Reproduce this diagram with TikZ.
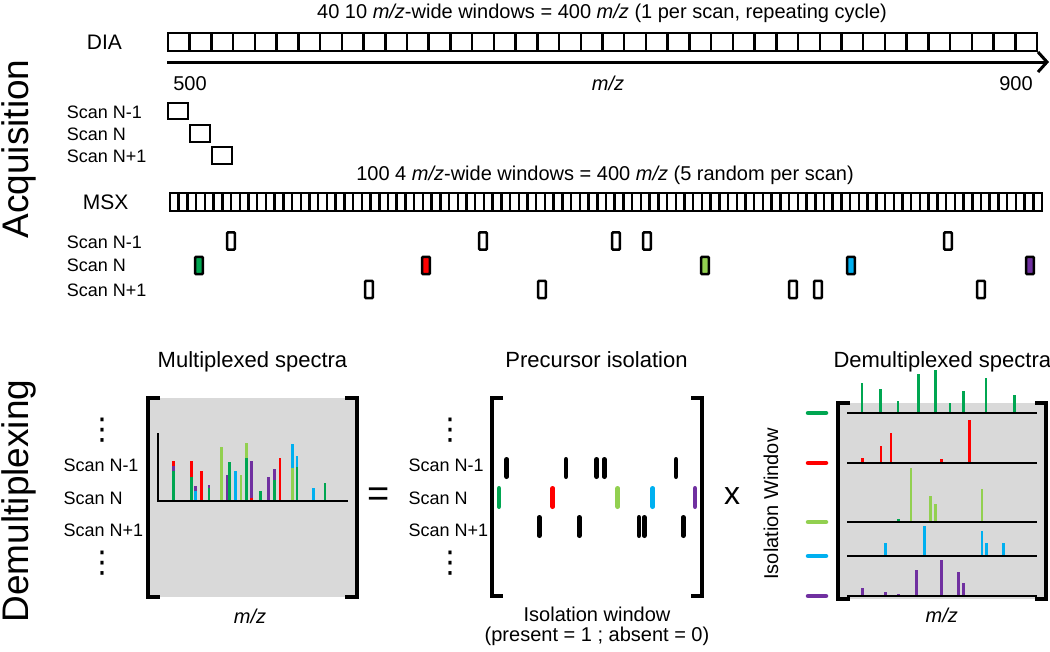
\documentclass[tikz,border=0pt]{standalone}
\usepackage{fontspec}
\setmainfont{Liberation Sans}
\newfontfamily\djv{DejaVu Sans}
\usetikzlibrary{arrows.meta}
\definecolor{cgreen}{RGB}{0,166,81}
\definecolor{cred}{RGB}{255,0,0}
\definecolor{clgreen}{RGB}{146,208,80}
\definecolor{ccyan}{RGB}{0,176,240}
\definecolor{cpurple}{RGB}{112,48,160}
\definecolor{cgray}{RGB}{217,217,217}
\newcommand{\fs}[1]{\fontsize{#1}{#1}\selectfont}
\newcommand{\mz}{\textit{m/z}}
\tikzset{
  lbl/.style={inner sep=0pt, font=\fs{18}, anchor=base west},
  txtmid/.style={inner sep=0pt, font=\fs{20}, anchor=base},
  sectitle/.style={inner sep=0pt, font=\fs{22}, anchor=base},
  bigtitle/.style={inner sep=0pt, font=\fs{37}, anchor=base, rotate=90},
  cell/.style={draw, line width=2.5pt},
  win/.style={draw, line width=2.5pt, rounded corners=1pt},
  brk/.style={line width=3.5pt},
  iso/.style={line width=4.5pt, line cap=round},
  pk/.style={line width=2.5pt},
  specbase/.style={line width=2.5pt},
  vdts/.style={inner sep=0pt, font=\djv\fs{30}, anchor=center},
}
\begin{document}
\begin{tikzpicture}[x=1pt,y=-1pt]
\useasboundingbox (0,0) rectangle (1050,651);

% ---------------- Section titles
\node[bigtitle] (acq) at (28,149) {Acquisition};
\node[bigtitle] (demux) at (28,501) {Demultiplexing};

% ---------------- DIA
\node[txtmid] (diatitle) at (602,18.5) {40 10 \mz-wide windows = 400 \mz{} (1 per scan, repeating cycle)};
\node[inner sep=0pt, font=\fs{21}, anchor=base] (dia) at (104.5,49) {DIA};
\draw[cell] (168,33) rectangle (1037,51);
\foreach \i in {1,...,39} \draw[cell] ({168+\i*21.725},33) -- ({168+\i*21.725},51);

\coordinate (axL) at (167,62);
\coordinate (axR) at (1049,62);
\draw[line width=3pt, -{Straight Barb[length=9pt,width=20pt]}] (axL) -- (axR);
\node[txtmid] (n500) at (190,90) {500};
\node[txtmid] (mzaxis) at (608,90) {\mz};
\node[txtmid] (n900) at (1016,90) {900};

\node[lbl] (dsa) at (66.7,118.3) {Scan N-1};
\node[lbl] (dsb) at (66.7,140) {Scan N};
\node[lbl] (dsc) at (66.7,162.3) {Scan N+1};
\draw[cell] (168,103) rectangle (188,119);
\draw[cell] (190,125) rectangle (210,142);
\draw[cell] (212,147) rectangle (232,164);

% ---------------- MSX
\node[txtmid] (msxtitle) at (605,180) {100 4 \mz-wide windows = 400 \mz{} (5 random per scan)};
\node[inner sep=0pt, font=\fs{21}, anchor=base] (msx) at (105.7,209) {MSX};
\draw[cell] (170,193) rectangle (1042,211);
\foreach \i in {1,...,99} \draw[cell] ({170+\i*8.72},193) -- ({170+\i*8.72},211);

\node[lbl] (msa) at (66.7,248.3) {Scan N-1};
\node[lbl] (msb) at (66.7,271.7) {Scan N};
\node[lbl] (msc) at (66.7,296) {Scan N+1};
\foreach \x in {231,483,616,647,948}
  \draw[win,fill=white] (\x-3.8,232.3) rectangle (\x+3.8,249.7);
\foreach \x/\c in {199/cgreen,426/cred,705/clgreen,851/ccyan,1030/cpurple}
  \draw[win,fill=\c] (\x-3.8,256.8) rectangle (\x+3.8,274.2);
\foreach \x in {369,542,793,818,981}
  \draw[win,fill=white] (\x-3.8,280.8) rectangle (\x+3.8,298.2);

% ---------------- Multiplexed spectra
\node[sectitle] (mtitle) at (252.5,367.3) {Multiplexed spectra};
\fill[cgray] (148,398) rectangle (357,597);
\draw[brk] (160,398) -- (148,398) -- (148,597) -- (160,597);
\draw[brk] (345,398) -- (357,398) -- (357,597) -- (345,597);
\foreach \x/\a/\b/\c in {
 173.3/500/470.7/cgreen, 173.3/470.7/465.7/cpurple, 173.3/465.7/460.7/cred,
 191.7/500/477.3/cgreen, 191.7/477.3/461/cred,
 195.7/500/490.7/ccyan, 195.7/490.7/486/cpurple,
 201.7/500/471/cred,
 209/500/487.7/cgreen, 209/487.7/485/cpurple,
 221.7/500/447.3/clgreen,
 227/500/475/cpurple,
 229.3/500/462/cgreen,
 235.3/500/471/ccyan,
 241/500/475.3/clgreen,
 246.3/500/457.7/cgreen, 246.3/457.7/443.3/clgreen,
 251.7/500/497.7/cred, 251.7/497.7/461.3/cpurple,
 260.3/500/491/cgreen,
 268.7/500/477.3/cpurple,
 274.3/500/479.7/cgreen, 274.3/479.7/468.7/cpurple,
 280/500/458/cred,
 292.7/500/468.3/clgreen, 292.7/468.3/443.7/ccyan,
 297/500/466.7/cgreen, 297/466.7/455.7/ccyan,
 313.7/500/488.3/ccyan,
 325/500/483/cgreen}
  \draw[pk,\c] (\x,\a) -- (\x,\b);
\draw[line width=2.5pt] (158,433) -- (158,501) -- (348,501);
\node[vdts] (mda) at (102,430) {⋮};
\node[lbl] (mla) at (63.3,471.7) {Scan N-1};
\node[lbl] (mlb) at (63.3,504.3) {Scan N};
\node[lbl] (mlc) at (63.3,536.7) {Scan N+1};
\node[vdts] (mdb) at (102,563) {⋮};
\node[txtmid] (mmz) at (250,623) {\mz};

\node[inner sep=0pt, font=\fs{38}] (eq) at (379,497) {=};

% ---------------- Precursor isolation
\node[sectitle] (ptitle) at (596.5,367.3) {Precursor isolation};
\draw[brk] (503,398) -- (492,398) -- (492,596) -- (503,596);
\draw[brk] (691,398) -- (702,398) -- (702,596) -- (691,596);
\foreach \x in {506.7,566,596.7,604.3,676} \draw[iso] (\x,459.25) -- (\x,476.75);
\foreach \x/\c in {499/cgreen,552.7/cred,617.7/clgreen,652.7/ccyan,695/cpurple}
  \draw[iso,\c] (\x,488.25) -- (\x,506.75);
\foreach \x in {539.3,579.3,639,644.3,683.3} \draw[iso] (\x,517.25) -- (\x,535.75);
\node[vdts] (pda) at (450,430) {⋮};
\node[lbl] (pla) at (408.3,471.7) {Scan N-1};
\node[lbl] (plb) at (408.3,504.3) {Scan N};
\node[lbl] (plc) at (408.3,536.7) {Scan N+1};
\node[vdts] (pdb) at (450,563) {⋮};
\node[txtmid] (isow) at (597,621.7) {Isolation window};
\node[txtmid] (pres) at (597,641) {(present = 1 ; absent = 0)};

\node[inner sep=0pt, font=\fs{32}] (times) at (732,496) {x};

% ---------------- Demultiplexed spectra
\node[inner sep=0pt, font=\fs{22}, anchor=base west] (dtitle) at (833.3,367.3) {Demultiplexed spectra};
\fill[cgray] (838,403) rectangle (1046,599);
\draw[brk] (850,403) -- (838,403) -- (838,599) -- (850,599);
\draw[brk] (1035,403) -- (1046,403) -- (1046,599) -- (1035,599);
\foreach \x/\t in {862/382.7,880.7/389.3,898/401.3,918.3/374,935.3/370,950/403,963.3/391.3,986/378.3,1014.7/395}
  \draw[pk,cgreen] (\x,413) -- (\x,\t);
\foreach \x/\t in {862.7/458.3,881/445.7,891/433.3,941.3/459.3,969.3/420.3}
  \draw[pk,cred] (\x,463) -- (\x,\t);
\draw[pk,cgreen] (898.3,522) -- (898.3,519.3);
\foreach \x/\t in {911/468,930.3/496,935.7/504,982/489.3}
  \draw[pk,clgreen] (\x,522) -- (\x,\t);
\foreach \x/\t in {885.3/543.3,924.3/525.7,982/531,986.7/543.3,1003.3/543.3}
  \draw[pk,ccyan] (\x,556) -- (\x,\t);
\foreach \x/\t in {862.7/587.7,885.3/592.3,898.3/594,916.3/570,941.3/560,958.3/572.3,963.7/583.3}
  \draw[pk,cpurple] (\x,596) -- (\x,\t);
\foreach \y in {413,463,522,556,596}
  \draw[specbase] (847,\y) -- (1037,\y);
\foreach \y/\c in {413/cgreen,463/cred,522/clgreen,556/ccyan,596/cpurple}
  \draw[iso,\c] (808,\y) -- (826,\y);
\node[inner sep=0pt, font=\fs{20}, anchor=base, rotate=90] (isowin) at (778,504) {Isolation Window};
\node[txtmid] (dmz) at (941.7,622) {\mz};
\end{tikzpicture}
\end{document}
